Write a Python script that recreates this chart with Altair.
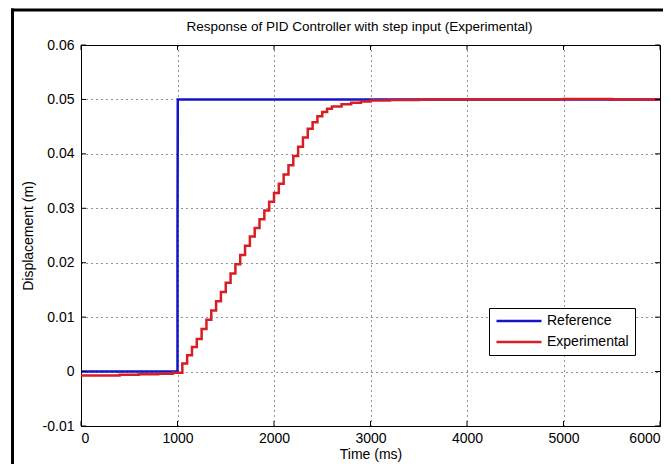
import altair as alt
import pandas as pd

# ---- data ----
series_names = ["Reference", "Experimental"]
series_colors = ["#1414c8", "#d81e24"]

ref_time = [0, 1000, 1000, 1003, 6000]
ref_disp = [0.0, 0.0, 0.025, 0.05, 0.05]

exp_time = [0, 200, 400, 600, 800, 950,
            1050, 1100, 1150, 1200, 1250, 1300, 1350, 1400, 1450, 1500,
            1550, 1600, 1650, 1700, 1750, 1800, 1850, 1900, 1950, 2000,
            2050, 2100, 2150, 2200, 2250, 2300, 2350, 2400, 2450, 2500,
            2550, 2600, 2700, 2800, 2900, 3000, 3200, 3500, 4000, 4500,
            5000, 5500, 6000]
exp_disp = [-0.0007, -0.0007, -0.0006, -0.0005, -0.0004, -0.0002,
            0.0015, 0.0030, 0.0045, 0.0060, 0.0078, 0.0095, 0.0112, 0.0129, 0.0146, 0.0163,
            0.0180, 0.0197, 0.0214, 0.0231, 0.0248, 0.0264, 0.0280, 0.0296, 0.0312, 0.0328,
            0.0345, 0.0362, 0.0379, 0.0396, 0.0413, 0.0430, 0.0446, 0.0458, 0.0469, 0.0477,
            0.0483, 0.0487, 0.0491, 0.0494, 0.0496, 0.0498, 0.0499, 0.0500, 0.0500, 0.0500,
            0.0501, 0.0500, 0.0500]

x_ticks = [0, 1000, 2000, 3000, 4000, 5000, 6000]
y_ticks = [-0.01, 0.0, 0.01, 0.02, 0.03, 0.04, 0.05, 0.06]

title_text = "Response of PID Controller with step input (Experimental)"
x_title = "Time (ms)"
y_title = "Displacement (m)"

# ---- tables ----
ref_df = pd.DataFrame({"time": ref_time, "disp": ref_disp,
                       "series": series_names[0], "i": range(len(ref_time))})
exp_df = pd.DataFrame({"time": exp_time, "disp": exp_disp,
                       "series": series_names[1], "i": range(len(exp_time))})
xt_df = pd.DataFrame({"time": x_ticks})
yt_df = pd.DataFrame({"disp": y_ticks})
one_df = pd.DataFrame({"a": [0]})

W, H = 579, 381
FONT = "Liberation Sans"
FS = 14

x_scale = alt.Scale(domain=[0, 6000], nice=False, zero=False)
y_scale = alt.Scale(domain=[-0.01, 0.06], nice=False, zero=False)

x_axis = alt.Axis(values=x_ticks, format="d", title=x_title,
                  tickSize=0, labelPadding=5, titlePadding=2)
y_axis = alt.Axis(values=y_ticks, format=".2~f",
                  labelExpr="replace(datum.label, '\u2212', '-')",
                  title=y_title, tickSize=0, labelPadding=7, titlePadding=7)

x_enc = alt.X("time:Q", scale=x_scale, axis=x_axis)
y_enc = alt.Y("disp:Q", scale=y_scale, axis=y_axis)
color_enc = alt.Color("series:N",
                      scale=alt.Scale(domain=series_names, range=series_colors),
                      legend=alt.Legend(orient="none", legendX=408, legendY=263,
                                        title=None, symbolType="stroke",
                                        symbolSize=2025, symbolStrokeWidth=2.5,
                                        labelFontSize=FS, labelFont=FONT,
                                        labelColor="black", labelOffset=4,
                                        strokeColor="black", fillColor="white",
                                        padding=6, rowPadding=7, clipHeight=14))

ref_line = alt.Chart(ref_df).mark_line(strokeWidth=2.5).encode(
    x=x_enc, y=y_enc, color=color_enc, order="i:Q")
exp_line = alt.Chart(exp_df).mark_line(strokeWidth=2.5, interpolate="step-after").encode(
    x=x_enc, y=y_enc, color=color_enc, order="i:Q")

tick_x_bottom = alt.Chart(xt_df).mark_rule(color="black", strokeWidth=1).encode(
    x=alt.X("time:Q", scale=x_scale, axis=x_axis), y=alt.value(H), y2=alt.value(H - 5))
tick_x_top = alt.Chart(xt_df).mark_rule(color="black", strokeWidth=1).encode(
    x=alt.X("time:Q", scale=x_scale, axis=x_axis), y=alt.value(0), y2=alt.value(5))
tick_y_left = alt.Chart(yt_df).mark_rule(color="black", strokeWidth=1).encode(
    y=alt.Y("disp:Q", scale=y_scale, axis=y_axis), x=alt.value(0), x2=alt.value(5))
tick_y_right = alt.Chart(yt_df).mark_rule(color="black", strokeWidth=1).encode(
    y=alt.Y("disp:Q", scale=y_scale, axis=y_axis), x=alt.value(W), x2=alt.value(W - 5))

frame_top = alt.Chart(one_df).mark_rule(color="black", strokeWidth=3).encode(
    x=alt.value(-70), x2=alt.value(W + 20), y=alt.value(-35))
frame_left = alt.Chart(one_df).mark_rule(color="black", strokeWidth=3).encode(
    x=alt.value(-68.5), y=alt.value(-36.5), y2=alt.value(H + 60))

chart = alt.layer(
    ref_line, exp_line,
    tick_x_bottom, tick_x_top, tick_y_left, tick_y_right,
    frame_top, frame_left
).properties(
    width=W, height=H,
    title=alt.TitleParams(title_text, fontSize=13.5, font=FONT, fontWeight="normal",
                          color="black", offset=-26.5, dx=-11, frame="group"),
    autosize=alt.AutoSizeParams(type="none"),
    padding={"left": 73, "top": 37, "right": 3, "bottom": 38},
    background="white",
).configure_view(
    stroke="black", strokeWidth=1
).configure_axis(
    labelFont=FONT, titleFont=FONT, labelFontSize=FS, titleFontSize=FS,
    titleFontWeight="normal", labelColor="black", titleColor="black",
    domainColor="black", domainWidth=1, gridColor="black", gridDash=[1, 4],
    gridOpacity=0.85, gridWidth=1
)

chart.save("out.html", embed_options={"renderer": "svg", "actions": False})
